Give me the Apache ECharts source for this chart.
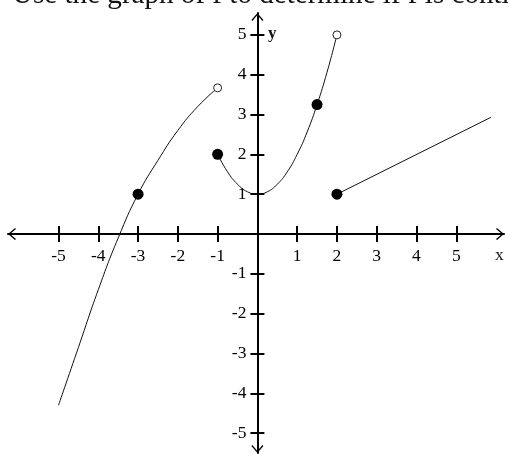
<!DOCTYPE html>
<html>
<head>
<meta charset="utf-8">
<script src="https://cdn.jsdelivr.net/npm/echarts@6/dist/echarts.min.js"></script>
<style>
  html, body { margin: 0; padding: 0; background: #fff; }
  #chart { width: 508px; height: 454px; }
</style>
</head>
<body>
<div id="chart"></div>
<script>
// values
const tickValues = [-5, -4, -3, -2, -1, 1, 2, 3, 4, 5];
const leftCurve = [[-5, -4.3], [-4.5, -2.85], [-4, -1.4], [-3.5, -0.1], [-3, 1], [-2.5, 1.85], [-2, 2.6], [-1.5, 3.2], [-1, 3.67]];
const midCurve = [[-1, 2], [-0.75, 1.56], [-0.5, 1.25], [-0.25, 1.06], [0, 1], [0.25, 1.06], [0.5, 1.25], [0.75, 1.56], [1, 2], [1.25, 2.56], [1.5, 3.25], [1.75, 4.06], [2, 5]];
const rightLine = [[2, 1], [5.87, 2.93]];
const closedDots = [[-3, 1], [-1, 2], [1.5, 3.25], [2, 1]];
const openDots = [[-1, 3.67], [2, 5]];

const xMin = -6.27, xMax = 6.2;
const yMin = -5.5, yMax = 5.55;

const serif = '"Liberation Serif", "DejaVu Serif", serif';
const chevron = 'path://M6,0 L12,7 L11,8 L6,2 L1,8 L0,7 Z';

const grid = { left: 8, right: 4, top: 13, bottom: 1 };
const gridW = 508 - grid.left - grid.right;
const gridH = 454 - grid.top - grid.bottom;
// distance of the zero lines from each grid edge, so axes sit at the origin
const zeroFromBottom = gridH * (0 - yMin) / (yMax - yMin);
const zeroFromLeft = gridW * (0 - xMin) / (xMax - xMin);

const chart = echarts.init(document.getElementById('chart'));

const tickStyle = { color: '#000', width: 2 };

const mainAxis = (ticksLen, labelMargin) => ({
  type: 'value',
  axisLine: {
    onZero: false,
    lineStyle: { color: '#000', width: 2 },
    symbol: [chevron, chevron],
    symbolSize: [13, 8],
    symbolOffset: [4, -4],
  },
  axisTick: { show: true, customValues: tickValues, length: ticksLen, lineStyle: tickStyle },
  axisLabel: { show: true, customValues: tickValues, margin: labelMargin, color: '#000', fontFamily: serif, fontSize: 17.5 },
  splitLine: { show: false },
});

const otherSide = (ticksLen) => ({
  type: 'value',
  axisLine: { show: false, onZero: false },
  axisTick: { show: true, customValues: tickValues, length: ticksLen, lineStyle: tickStyle },
  axisLabel: { show: false },
  splitLine: { show: false },
});

const option = {
  animation: false,
  grid: Object.assign({ outerBoundsMode: 'none' }, grid),
  xAxis: [
    Object.assign(mainAxis(8, 13), { position: 'bottom', offset: -zeroFromBottom, min: xMin, max: xMax }),
    Object.assign(otherSide(8), { position: 'top', offset: -(gridH - zeroFromBottom), min: xMin, max: xMax }),
  ],
  yAxis: [
    Object.assign(mainAxis(7, 11), { position: 'left', offset: -zeroFromLeft, min: yMin, max: yMax }),
    Object.assign(otherSide(7), { position: 'right', offset: -(gridW - zeroFromLeft), min: yMin, max: yMax }),
  ],
  graphic: [
    {
      type: 'text',
      left: 12,
      top: -19,
      style: { text: 'Use the graph of f to determine if f is continuous', font: '29.1px ' + serif, fill: '#111' },
    },
    {
      type: 'text',
      left: 268,
      top: 25,
      style: { text: 'y', font: 'bold 17px ' + serif, fill: '#111' },
    },
    {
      type: 'text',
      left: 495,
      top: 246,
      style: { text: 'x', font: '17.5px ' + serif, fill: '#111' },
    },
  ],
  series: [
    {
      type: 'line',
      data: leftCurve,
      smooth: true,
      showSymbol: false,
      lineStyle: { color: '#111', width: 1 },
      z: 2,
    },
    {
      type: 'line',
      data: midCurve,
      smooth: true,
      showSymbol: false,
      lineStyle: { color: '#111', width: 1 },
      z: 2,
    },
    {
      type: 'line',
      data: rightLine,
      showSymbol: false,
      lineStyle: { color: '#111', width: 1 },
      z: 2,
    },
    {
      type: 'scatter',
      data: closedDots,
      symbol: 'circle',
      symbolSize: 11,
      itemStyle: { color: '#000', opacity: 1 },
      z: 3,
    },
    {
      type: 'scatter',
      data: openDots,
      symbol: 'circle',
      symbolSize: 8,
      itemStyle: { color: '#fff', borderColor: '#222', borderWidth: 1, opacity: 1 },
      z: 3,
    },
  ],
};

chart.setOption(option);
</script>
</body>
</html>
